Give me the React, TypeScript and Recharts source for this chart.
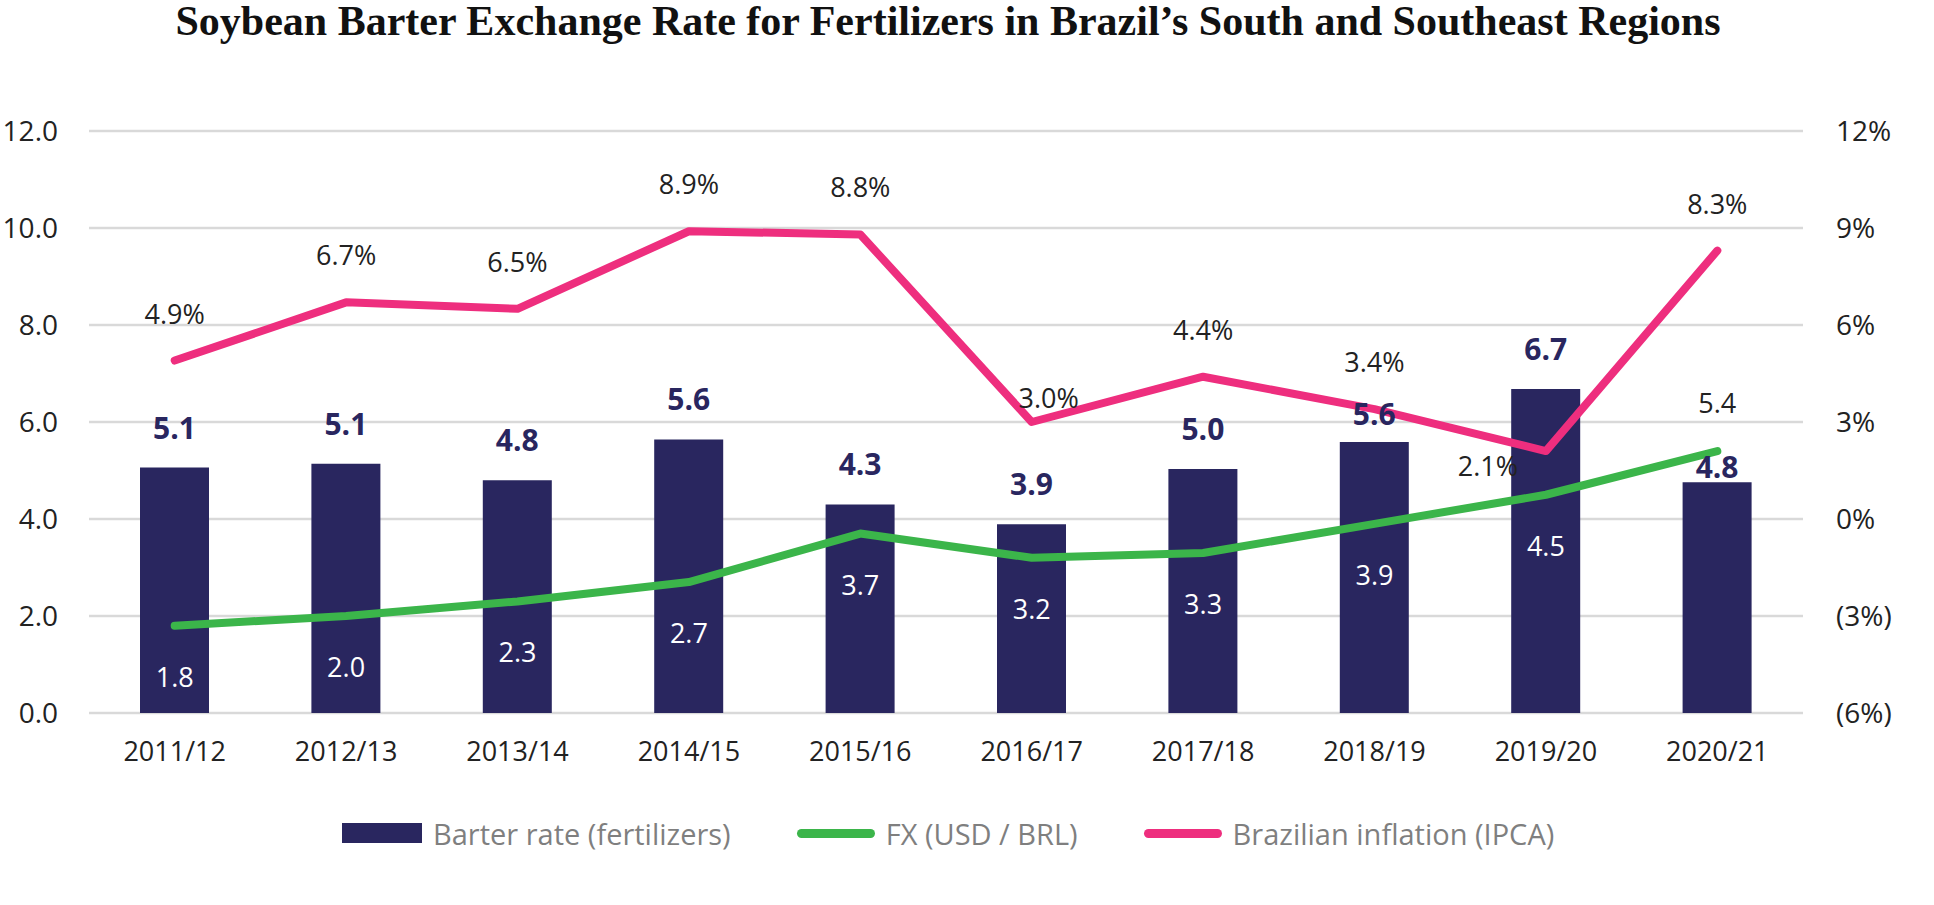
import { ComposedChart, Bar, Line, XAxis, YAxis, CartesianGrid, LabelList } from "recharts";

const SEASONS = ["2011/12", "2012/13", "2013/14", "2014/15", "2015/16", "2016/17", "2017/18", "2018/19", "2019/20", "2020/21"];
const BARTER_RATE = [5.06, 5.14, 4.8, 5.64, 4.3, 3.89, 5.03, 5.59, 6.68, 4.76];
const FX_USD_BRL = [1.8, 2.0, 2.3, 2.7, 3.7, 3.2, 3.3, 3.9, 4.5, 5.4];
const IPCA = [4.9, 6.7, 6.5, 8.9, 8.8, 3.0, 4.4, 3.4, 2.1, 8.3];

const LEFT_TICKS = [0, 2, 4, 6, 8, 10, 12];
const RIGHT_TICKS = [-6, -3, 0, 3, 6, 9, 12];

const NAVY = "#29265f";
const GREEN = "#3bb54a";
const PINK = "#ee2e7e";
const TEXT = "#222222";
const FONT = "'Open Sans', sans-serif";

const data = SEASONS.map((season, i) => ({
  season,
  barter: BARTER_RATE[i],
  fx: FX_USD_BRL[i],
  ipca: IPCA[i],
}));

const LEGEND = [
  { label: "Barter rate (fertilizers)", color: NAVY, kind: "box" },
  { label: "FX (USD / BRL)", color: GREEN, kind: "line" },
  { label: "Brazilian inflation (IPCA)", color: PINK, kind: "line" },
];

// a few labels were nudged in the original to dodge the lines
const BAR_LABEL_GAP: Record<number, number> = { 7: 17, 9: 4 };
const IPCA_LABEL_SHIFT: Record<number, [number, number]> = { 5: [17, -14], 8: [-58, 25] };

const getBox = (props: any) => {
  const vb = props.viewBox && props.viewBox.x != null ? props.viewBox : props;
  return { x: Number(vb.x), y: Number(vb.y), w: Number(vb.width ?? 0) };
};

const BarValueLabel = (props: any) => {
  const { x, y, w } = getBox(props);
  const gap = BAR_LABEL_GAP[props.index] ?? 29;
  return (
    <text x={x + w / 2} y={y - gap} textAnchor="middle" fill={NAVY} fontFamily={FONT} fontWeight={700} fontSize={30}>
      {Number(props.value).toFixed(1)}
    </text>
  );
};

const FxLabel = (props: any) => {
  const { x, y } = getBox(props);
  const last = props.index === SEASONS.length - 1;
  return (
    <text x={x} y={last ? y - 38 : y + 61} textAnchor="middle" fill={last ? TEXT : "#ffffff"} fontFamily={FONT} fontSize={27}>
      {Number(props.value).toFixed(1)}
    </text>
  );
};

const IpcaLabel = (props: any) => {
  const { x, y } = getBox(props);
  const [dx, dy] = IPCA_LABEL_SHIFT[props.index] ?? [0, -37];
  return (
    <text x={x + dx} y={y + dy} textAnchor="middle" fill={TEXT} fontFamily={FONT} fontSize={27}>
      {Number(props.value).toFixed(1)}%
    </text>
  );
};

const fmtPct = (v: number) => (v < 0 ? `(${Math.abs(v)}%)` : `${v}%`);

export default function App() {
  return (
    <div style={{ position: "absolute", left: 0, top: 0, width: 1934, height: 905, background: "#fff" }}>
      <div
        style={{
          position: "absolute",
          top: 0,
          left: 0,
          width: 1896,
          textAlign: "center",
          fontFamily: "'Liberation Serif', 'Times New Roman', serif",
          fontWeight: 700,
          fontSize: 42,
          lineHeight: "42px",
          color: "#111",
          whiteSpace: "nowrap",
        }}
      >
        Soybean Barter Exchange Rate for Fertilizers in Brazil’s South and Southeast Regions
      </div>

      <ComposedChart
        width={1934}
        height={905}
        data={data}
        margin={{ top: 131, right: 0, bottom: 132, left: 0 }}
        style={{ position: "absolute", left: 0, top: 0 }}
      >
        <CartesianGrid yAxisId="left" vertical={false} stroke="#d9d9d9" strokeWidth={2.5} />
        <XAxis
          dataKey="season"
          axisLine={false}
          tickLine={false}
          tickSize={0}
          tickMargin={29}
          height={60}
          interval={0}
          tick={{ fill: TEXT, fontFamily: FONT, fontSize: 27 }}
        />
        <YAxis
          yAxisId="left"
          domain={[0, 12]}
          ticks={LEFT_TICKS}
          width={89}
          axisLine={false}
          tickLine={false}
          tickSize={0}
          tickMargin={31}
          tickFormatter={(v: number) => v.toFixed(1)}
          tick={{ fill: TEXT, fontFamily: FONT, fontSize: 28 }}
        />
        <YAxis
          yAxisId="right"
          orientation="right"
          domain={[-6, 12]}
          ticks={RIGHT_TICKS}
          width={131}
          axisLine={false}
          tickLine={false}
          tickSize={0}
          tickMargin={33}
          tickFormatter={fmtPct}
          tick={{ fill: TEXT, fontFamily: FONT, fontSize: 28 }}
        />
        <Bar yAxisId="left" dataKey="barter" fill={NAVY} barSize={69} isAnimationActive={false}>
          <LabelList dataKey="barter" content={BarValueLabel} />
        </Bar>
        <Line
          yAxisId="left"
          type="linear"
          dataKey="fx"
          stroke={GREEN}
          strokeWidth={8}
          strokeLinecap="round"
          strokeLinejoin="round"
          dot={false}
          activeDot={false}
          isAnimationActive={false}
        >
          <LabelList dataKey="fx" content={FxLabel} />
        </Line>
        <Line
          yAxisId="right"
          type="linear"
          dataKey="ipca"
          stroke={PINK}
          strokeWidth={8}
          strokeLinecap="round"
          strokeLinejoin="round"
          dot={false}
          activeDot={false}
          isAnimationActive={false}
        >
          <LabelList dataKey="ipca" content={IpcaLabel} />
        </Line>
      </ComposedChart>

      <div
        style={{
          position: "absolute",
          top: 813,
          left: 342,
          height: 40,
          display: "flex",
          alignItems: "center",
          fontFamily: FONT,
          fontSize: 29,
          color: "#7f7f7f",
          whiteSpace: "nowrap",
        }}
      >
        {LEGEND.map((item, i) => (
          <div key={item.label} style={{ display: "flex", alignItems: "center", marginLeft: i === 0 ? 0 : 66 }}>
            {item.kind === "box" ? (
              <span style={{ display: "inline-block", width: 80, height: 20, background: item.color }} />
            ) : (
              <span style={{ display: "inline-block", width: 78, height: 9, borderRadius: 5, background: item.color }} />
            )}
            <span style={{ marginLeft: 11 }}>{item.label}</span>
          </div>
        ))}
      </div>
    </div>
  );
}
